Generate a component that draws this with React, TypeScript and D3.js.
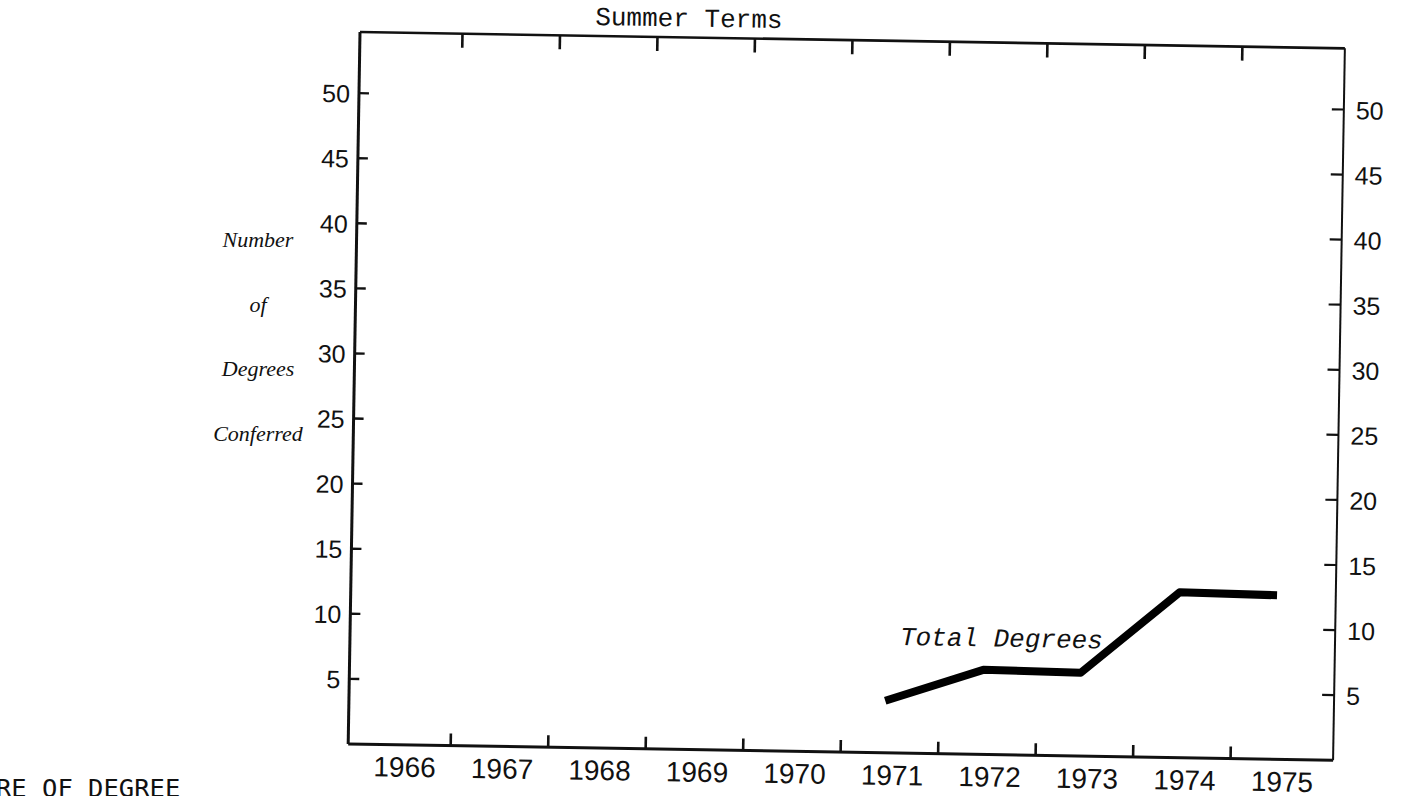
import React from "react";
import * as d3 from "d3";

const years = ["1966", "1967", "1968", "1969", "1970", "1971", "1972", "1973", "1974", "1975"];
const lineYears = ["1971", "1972", "1973", "1974", "1975"];
const totalDegrees = [4, 6.5, 6.4, 12.7, 12.6];
const yTicks = [5, 10, 15, 20, 25, 30, 35, 40, 45, 50];
const yTitleLines = ["Number", "of", "Degrees", "Conferred"];
const chartTitle = "Summer Terms";
const seriesLabel = "Total Degrees";
const footText = "RE OF DEGREE";

export default function App() {
  const W = 985;
  const H = 712;
  const x = d3.scaleBand<string>().domain(years).range([5, 980]).padding(0);
  const y = d3.scaleLinear().domain([0, 54.7]).range([H, 0]);
  const pts: [string, number][] = lineYears.map((yr, i) => [yr, totalDegrees[i]]);
  const line = d3
    .line<[string, number]>()
    .x((d) => (x(d[0]) as number) + x.bandwidth() / 2 - 5)
    .y((d) => y(d[1]));
  const boundaries = years.slice(1).map((yr) => x(yr) as number);
  const mono = "'Liberation Mono', 'Courier New', monospace";
  const sans = "'Liberation Sans', Arial, sans-serif";

  return (
    <svg
      width={1404}
      height={796}
      style={{ position: "absolute", left: 0, top: 0, background: "#fff" }}
    >
      <rect x={0} y={0} width={1404} height={796} fill="#fff" />
      {/* left title */}
      <g
        fontFamily="'Liberation Serif', 'Times New Roman', serif"
        fontStyle="italic"
        fontSize={22}
        fill="#111"
        textAnchor="middle"
      >
        {yTitleLines.map((t, i) => (
          <text key={t} x={258} y={247 + i * 64.5}>
            {t}
          </text>
        ))}
      </g>
      {/* cut-off footer text */}
      <text x={-4} y={797} fontFamily="'DejaVu Sans Mono', monospace" fontSize={25.5} fill="#111">
        {footText}
      </text>
      <g transform="translate(360,32) rotate(0.95)">
        {/* frame */}
        <line x1={0} y1={0} x2={0} y2={H} stroke="#111" strokeWidth={3} />
        <line x1={0} y1={H} x2={W} y2={H} stroke="#111" strokeWidth={3} />
        <line x1={0} y1={0} x2={W} y2={0} stroke="#111" strokeWidth={2.6} />
        <line x1={W} y1={0} x2={W} y2={H} stroke="#111" strokeWidth={2} />
        {/* top & bottom ticks */}
        {boundaries.map((bx, i) => (
          <g key={i}>
            <line x1={bx} y1={0} x2={bx} y2={14} stroke="#111" strokeWidth={2.6} />
            <line x1={bx} y1={H} x2={bx} y2={H - 12} stroke="#111" strokeWidth={2.6} />
          </g>
        ))}
        {/* x labels */}
        <g fontFamily={sans} fontSize={28} fill="#111" textAnchor="middle">
          {years.map((yr) => (
            <text key={yr} x={(x(yr) as number) + x.bandwidth() / 2 + 3} y={H + 32}>
              {yr}
            </text>
          ))}
        </g>
        {/* y ticks */}
        {yTicks.map((v) => (
          <g key={v}>
            <line x1={0} y1={y(v)} x2={10} y2={y(v)} stroke="#111" strokeWidth={2.4} />
            <line x1={W} y1={y(v)} x2={W - 12} y2={y(v)} stroke="#111" strokeWidth={2.2} />
            <text
              x={-9}
              y={y(v)}
              dy="0.38em"
              textAnchor="end"
              fontFamily={sans}
              fontSize={25}
              fill="#111"
            >
              {v}
            </text>
            <text
              x={W + 12}
              y={y(v)}
              dy="0.38em"
              textAnchor="start"
              fontFamily={sans}
              fontSize={25}
              fill="#111"
            >
              {v}
            </text>
          </g>
        ))}
        {/* title */}
        <text x={235} y={-11} fontFamily={mono} fontSize={26} fill="#111">
          {chartTitle}
        </text>
        {/* series */}
        <path
          d={line(pts) as string}
          fill="none"
          stroke="#000"
          strokeWidth={8}
          strokeLinejoin="round"
          strokeLinecap="butt"
        />
        <text x={550} y={604} fontFamily={mono} fontStyle="italic" fontSize={26} fill="#111">
          {seriesLabel}
        </text>
      </g>
    </svg>
  );
}
